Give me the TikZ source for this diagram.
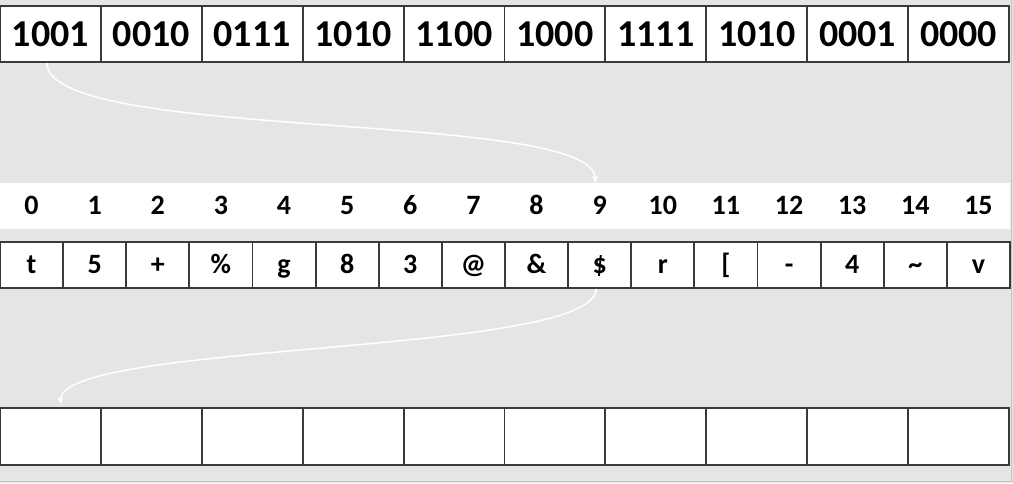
\documentclass[tikz,border=0pt]{standalone}
\usepackage{fontspec}
\setmainfont{Carlito}
\usetikzlibrary{arrows.meta}
\definecolor{bg}{HTML}{E5E5E5}
\definecolor{frame}{HTML}{C4C4C4}
\definecolor{cellline}{HTML}{3A3A3A}
\tikzset{
  cell/.style={draw=cellline, line width=1.9pt, fill=white, inner sep=0pt, font=\bfseries},
  bigcell/.style={cell, text height=26.6pt, text depth=2.6pt, minimum width=100.9pt, minimum height=56pt, font=\bfseries\fontsize{38}{42}\selectfont},
  charcell/.style={cell, text height=19.6pt, text depth=1.9pt, minimum width=63.125pt, minimum height=46pt, font=\bfseries\fontsize{28}{32}\selectfont},
  emptycell/.style={cell, minimum width=100.9pt, minimum height=57pt},
  idx/.style={text height=19.6pt, text depth=1.9pt, inner sep=0pt, minimum width=63.125pt, minimum height=46pt, font=\bfseries\fontsize{28}{32}\selectfont},
  flow/.style={draw=white, line width=1.5pt, -{Stealth[length=7pt,width=6pt]}}
}
\begin{document}
\begin{tikzpicture}[x=1pt,y=-1pt]
\useasboundingbox (0,0) rectangle (1013,483);
\fill[bg] (0,0) rectangle (1013,483);
\draw[frame, line width=1.5pt] (1011.5,0) -- (1011.5,481.5) -- (0,481.5);
% top row
\foreach \v [count=\i from 0] in {1001,0010,0111,1010,1100,1000,1111,1010,0001,0000}{
  \node[bigcell] (t\i) at ({50.45+\i*100.9},34) {\v};
}
% index strip
\node[fill=white, inner sep=0pt, minimum width=1010pt, minimum height=46pt] (strip) at (505,206) {};
\foreach \v [count=\i from 0] in {0,...,15}{
  \node[idx] (i\i) at ({31.56+\i*63.125},206) {\v};
}
% character row
\foreach \v [count=\i from 0] in {t,5,+,\%,g,8,3,@,\&,\$,r,[,-,4,\textasciitilde,v}{
  \node[charcell] (c\i) at ({31.56+\i*63.125},265) {\v};
}
% bottom row
\foreach \i in {0,...,9}{
  \node[emptycell] (b\i) at ({50.45+\i*100.9},436.5) {};
}
% connectors
\draw[flow] ([xshift=-3.5pt]t0.south) .. controls ([xshift=-3.5pt,yshift=-80pt]t0.south) and ([xshift=-4.5pt,yshift=74pt]i9.north) .. ([xshift=-4.5pt]i9.north);
\draw[flow] ([xshift=-3.5pt]c9.south) .. controls ([xshift=-3.5pt,yshift=-67pt]c9.south) and ([xshift=10pt,yshift=66pt]b0.north) .. ([xshift=10pt,yshift=3pt]b0.north);
\end{tikzpicture}
\end{document}
